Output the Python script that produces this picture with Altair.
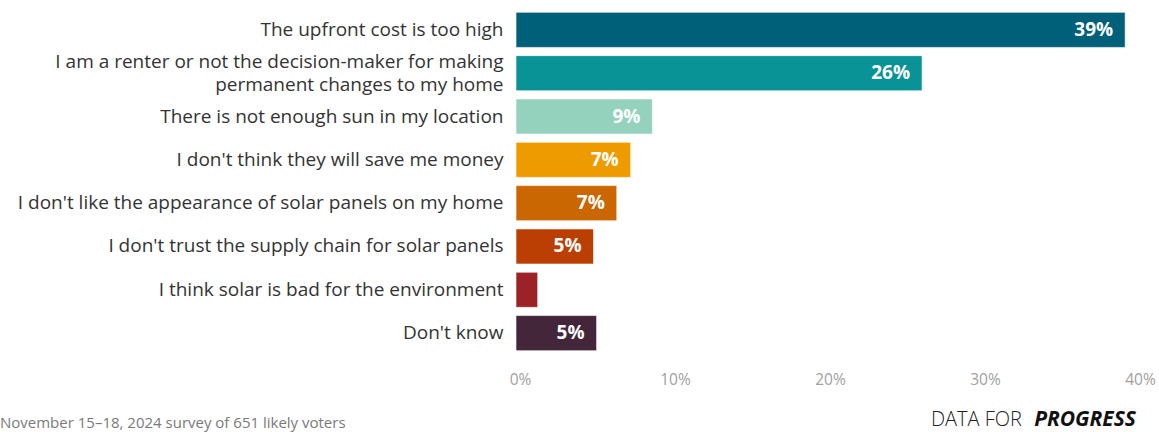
import altair as alt
import pandas as pd

categories = [
    "The upfront cost is too high",
    "I am a renter or not the decision-maker for making|permanent changes to my home",
    "There is not enough sun in my location",
    "I don't think they will save me money",
    "I don't like the appearance of solar panels on my home",
    "I don't trust the supply chain for solar panels",
    "I think solar is bad for the environment",
    "Don't know",
]
values = [39.3, 26.2, 8.8, 7.4, 6.5, 5.0, 1.4, 5.2]
labels = ["39%", "26%", "9%", "7%", "7%", "5%", "", "5%"]
colors = ["#00607A", "#0A9396", "#94D2BD", "#EE9B00", "#CA6702", "#BB3E03", "#9B2226", "#43263A"]
ticks = [0, 10, 20, 30, 40]

df = pd.DataFrame({"cat": categories, "value": values, "label": labels, "color": colors})

FONT = "Open Sans"
W, H = 620, 347

y = alt.Y("cat:N", sort=categories, title=None,
          scale=alt.Scale(paddingInner=0.19, paddingOuter=0.1),
          axis=alt.Axis(labelExpr="split(datum.label, '|')", labelFontSize=19, labelColor="#333333",
                        labelFont=FONT, labelPadding=13, labelLimit=600, labelLineHeight=23,
                        labelOffset={"condition": {"test": "indexof(datum.value, '|') >= 0", "value": -11},
                                     "value": 0},
                        domain=False, ticks=False))
x = alt.X("value:Q", title=None, scale=alt.Scale(domain=[0, 40], nice=False),
          axis=alt.Axis(values=ticks, labelExpr="datum.value + '%'", labelFontSize=15.5,
                        labelColor="#a0a0a0", labelFont=FONT, labelPadding=17,
                        labelFlush=False, labelOffset=4,
                        domain=False, ticks=False, grid=False))

bars = alt.Chart(df).mark_bar(stroke="white", strokeWidth=1, strokeOpacity=0.6).encode(
    y=y, x=x, color=alt.Color("color:N", scale=None))

text = alt.Chart(df).mark_text(align="right", dx=-12, fontSize=19, fontWeight="bold",
                               color="white", font=FONT, baseline="middle").encode(
    y=alt.Y("cat:N", sort=categories), x="value:Q", text="label:N")

footer_df = pd.DataFrame({"t": ["November 15\u201318, 2024 survey of 651 likely voters"]})
footer = alt.Chart(footer_df).mark_text(align="left", baseline="alphabetic", fontSize=15,
                                        color="#7a7a7a", font=FONT).encode(
    text="t:N", x=alt.value(-516), y=alt.value(420))

logo1_df = pd.DataFrame({"t": ["DATA FOR"]})
logo1 = alt.Chart(logo1_df).mark_text(align="right", baseline="alphabetic", fontSize=20,
                                      color="#222222", font=FONT, fontWeight=300).encode(
    text="t:N", x=alt.value(506), y=alt.value(418))
logo2_df = pd.DataFrame({"t": ["PROGRESS"]})
logo2 = alt.Chart(logo2_df).mark_text(align="right", baseline="alphabetic", fontSize=21,
                                      color="#111111", font=FONT, fontWeight="bold",
                                      fontStyle="italic").encode(
    text="t:N", x=alt.value(620), y=alt.value(418))

chart = alt.layer(bars, text, footer, logo1, logo2).properties(
    width=W, height=H,
    background="white",
    autosize=alt.AutoSizeParams(type="none"),
    padding={"left": 516, "top": 8, "right": 23, "bottom": 77},
).configure_view(strokeWidth=0, stroke="transparent")

chart.save("out.html", embed_options={"renderer": "svg", "actions": False})
